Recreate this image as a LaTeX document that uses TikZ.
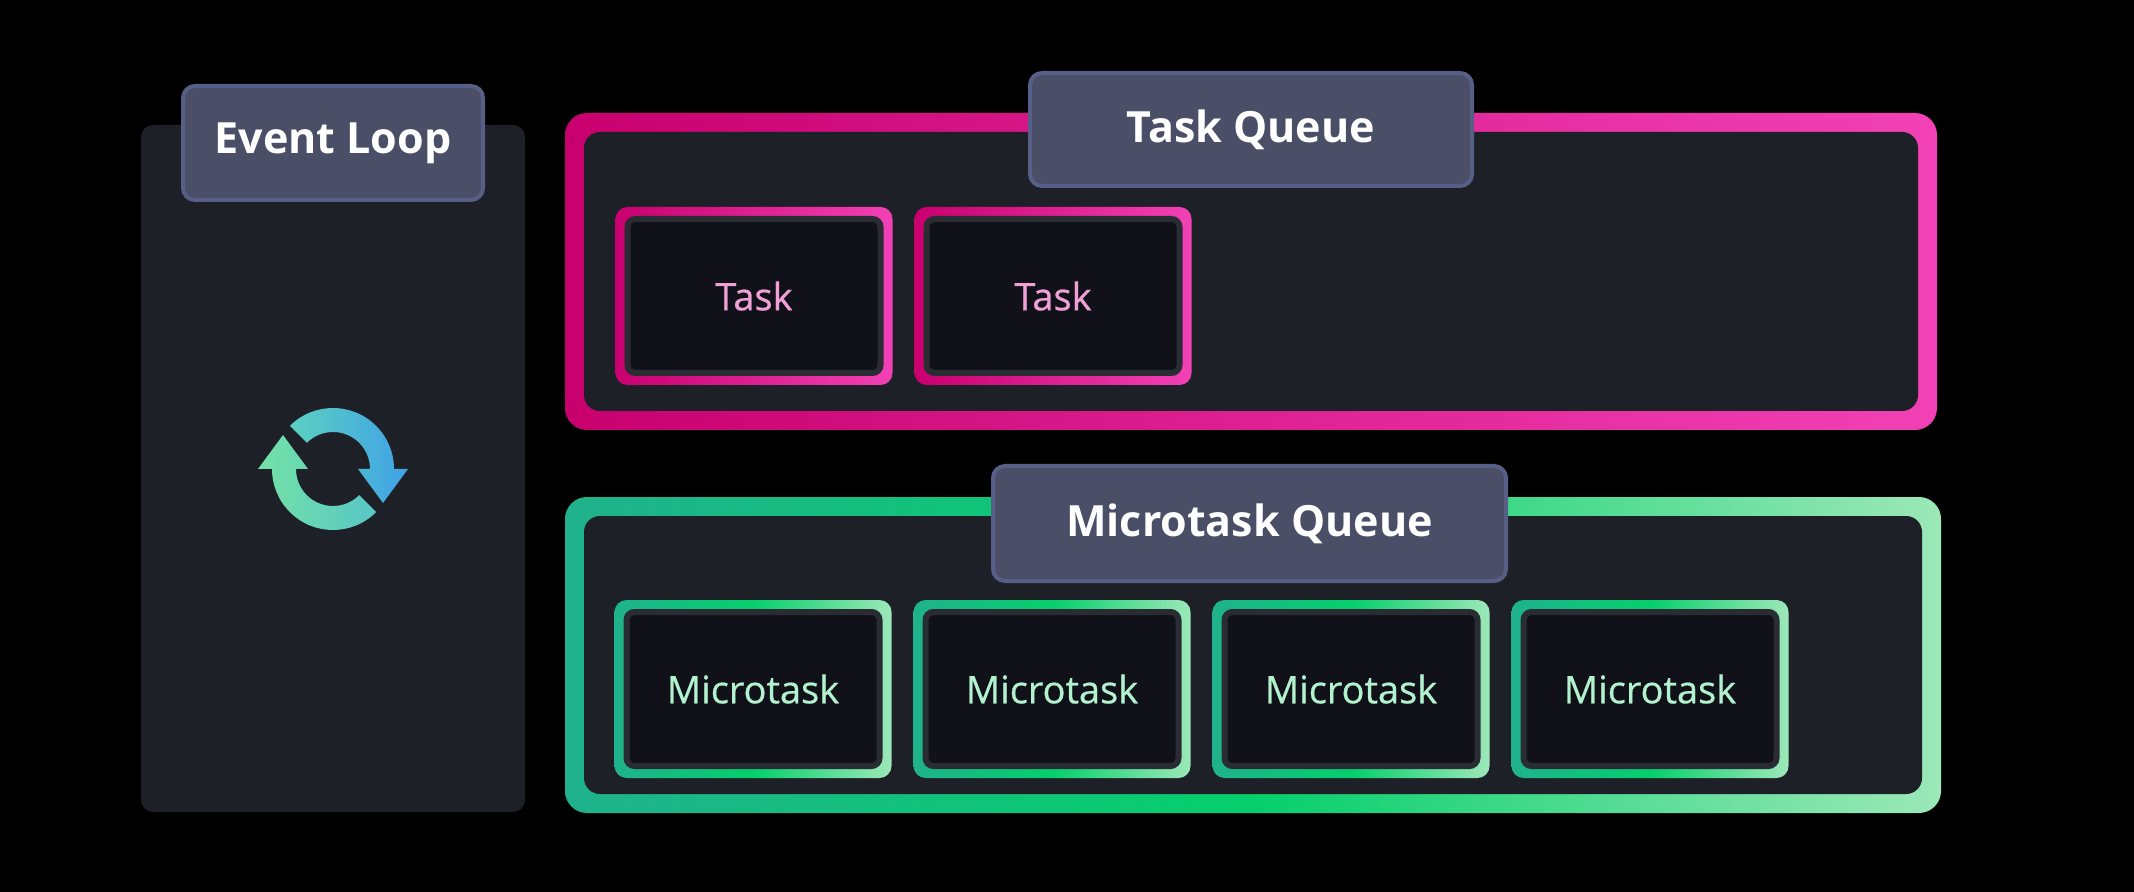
\documentclass[tikz,border=0pt]{standalone}
\usepackage{fontspec}
\setmainfont{Open Sans}
\newfontfamily\cellfont[BoldFont={Open Sans},BoldFeatures={FakeBold=0.6}]{Open Sans}
\usepackage{tikz}
\usetikzlibrary{positioning}
\definecolor{bgpanel}{HTML}{1E2027}
\definecolor{labelfill}{HTML}{4A4E66}
\definecolor{labelrim}{HTML}{585F86}
\definecolor{cellfill}{HTML}{111219}
\definecolor{cellrim}{HTML}{2A2C34}
\definecolor{taskL}{HTML}{C8006E}
\definecolor{taskR}{HTML}{F241B6}
\definecolor{tasktext}{HTML}{F0A0D6}
\definecolor{microL}{HTML}{1FB28C}
\definecolor{microM}{HTML}{05CF6C}
\definecolor{microR}{HTML}{9CE8B8}
\definecolor{microtext}{HTML}{B2F2CE}
\definecolor{loopA}{HTML}{5CD0C2}
\definecolor{loopB}{HTML}{3FA2E6}
\definecolor{loopC}{HTML}{74E2A6}
\definecolor{loopD}{HTML}{58C6C6}

\begin{document}
\begin{tikzpicture}[
x=0.5pt,y=-0.5pt,
Label/.style={draw=labelrim,fill=labelfill,line width=2pt,rounded corners=6pt,text=white,
  inner sep=0pt,font=\fontsize{21.5}{24}\selectfont\bfseries},
TaskRim/.style={left color=taskL,right color=taskR,rounded corners=6pt,
  minimum width=138.5pt,minimum height=89pt,inner sep=0pt},
MicroRim/.style={left color=microL,right color=microR,middle color=microM,rounded corners=6pt,
  minimum width=138.5pt,minimum height=89pt,inner sep=0pt},
Cell/.style={fill=cellfill,draw=cellrim,line width=3pt,rounded corners=4pt,
  minimum width=126.5pt,minimum height=77pt,inner sep=0pt,font=\fontsize{19}{22}\cellfont\bfseries}
]
% background
\fill[black] (0,0) rectangle (2134,892);

% event loop
\coordinate (EL1) at (141,125);
\coordinate (EL2) at (525,812);
\fill[bgpanel,rounded corners=6pt] (EL1) rectangle (EL2);
\node[Label,minimum width=150pt,minimum height=57pt] (evlabel) at (333,143) {Event Loop};

\coordinate (loopc) at (333,469);
\begin{scope}[shift={(loopc)}]
\shade[left color=loopA,right color=loopB] (-135:61) arc[start angle=-135,end angle=0,radius=61]
  -- (75,0) -- (50,34) -- (25,0) -- (37,0) arc[start angle=0,end angle=-135,radius=37] -- cycle;
\shade[left color=loopC,right color=loopD] (45:61) arc[start angle=45,end angle=180,radius=61]
  -- (-75,0) -- (-50,-34) -- (-25,0) -- (-37,0) arc[start angle=180,end angle=45,radius=37] -- cycle;
\end{scope}

% task queue
\coordinate (TQ1) at (565,113);
\coordinate (TQ2) at (1937,430);
\shade[left color=taskL,right color=taskR,rounded corners=11pt] (TQ1) rectangle (TQ2);
\fill[bgpanel,rounded corners=8pt] (584,132) rectangle (1918,411);
\node[Label,minimum width=221pt,minimum height=56.5pt] (tqlabel) at (1251,129.5) {Task Queue};
\foreach \i in {1,2}{
  \node[TaskRim] (taskrim\i) at ({754+299*(\i-1)},296) {};
  \node[Cell,text=tasktext] (task\i) at (taskrim\i) {Task};
}

% microtask queue
\coordinate (MQ1) at (565,497);
\coordinate (MQ2) at (1941,813);
\shade[left color=microL,right color=microR,middle color=microM,rounded corners=11pt] (MQ1) rectangle (MQ2);
\fill[bgpanel,rounded corners=8pt] (584,516) rectangle (1922,794);
\node[Label,minimum width=256.5pt,minimum height=57.5pt] (mqlabel) at (1249.5,523.5) {Microtask Queue};
\foreach \i in {1,...,4}{
  \node[MicroRim] (microrim\i) at ({753+299*(\i-1)},689) {};
  \node[Cell,text=microtext] (micro\i) at (microrim\i) {Microtask};
}

\end{tikzpicture}
\end{document}
